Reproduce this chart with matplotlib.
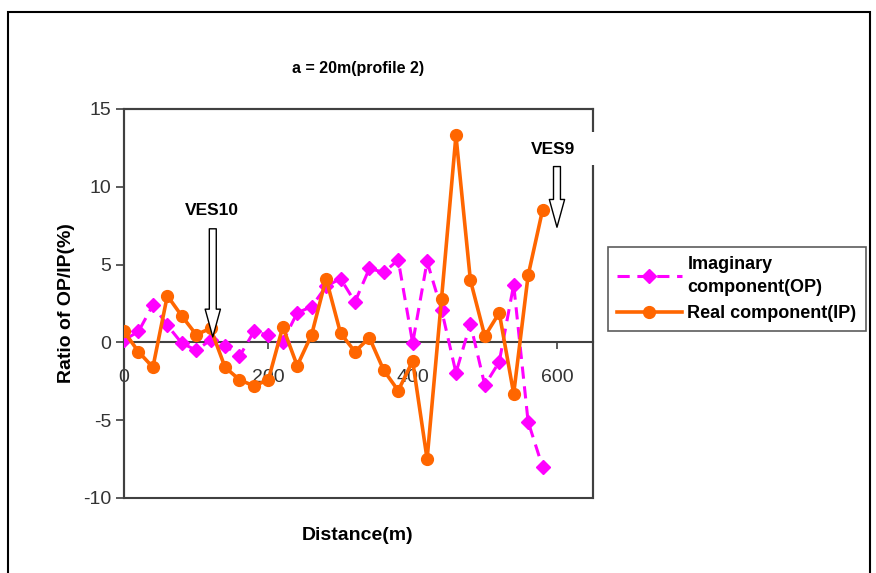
## a = 20m (profile 2) - OP/IP ratio along the profile

import matplotlib.pyplot as plt
from matplotlib.patches import Rectangle

########################################################################################################################

# Data
distance = [0, 20, 40, 60, 80, 100, 120, 140, 160, 180, 200, 220, 240, 260, 280,
            300, 320, 340, 360, 380, 400, 420, 440, 460, 480, 500, 520, 540, 560, 580]

imaginary_op = [0.15, 0.7, 2.4, 1.1, -0.05, -0.5, 0.15, -0.2, -0.9, 0.7, 0.45, 0.05, 1.9, 2.3, 3.6,
                4.1, 2.6, 4.75, 4.5, 5.3, -0.05, 5.2, 2.1, -1.95, 1.2, -2.75, -1.25, 3.7, -5.1, -8.0]

real_ip = [0.7, -0.6, -1.6, 3.0, 1.7, 0.5, 0.9, -1.6, -2.4, -2.8, -2.4, 1.0, -1.5, 0.5, 4.1,
           0.6, -0.6, 0.3, -1.8, -3.1, -1.2, -7.5, 2.8, 13.3, 4.0, 0.4, 1.9, -3.3, 4.3, 8.5]

x_ticks = [0, 200, 400, 600]
y_ticks = [-10, -5, 0, 5, 10, 15]

# VES marker locations (distance, arrow top, arrow tip)
ves_names = ['VES10', 'VES9']
ves_x = [123, 600]
ves_top = [7.3, 11.3]
ves_tip = [0.35, 7.4]

########################################################################################################################

plt.rcParams['font.family'] = ['Liberation Sans', 'DejaVu Sans']
plt.rcParams['axes.unicode_minus'] = False

fig = plt.figure(figsize=(8.76, 5.73), dpi=100)
ax = fig.add_axes([0.1416, 0.1309, 0.5354, 0.6789])

axis_grey = '#404040'

ax.plot(distance, imaginary_op, color='#FF00FF', lw=2.2, linestyle=(0, (4, 2.5)),
        marker='D', markersize=7.5, label='Imaginary\ncomponent(OP)', zorder=3)
ax.plot(distance, real_ip, color='#FF6600', lw=2.6, marker='o', markersize=8.5,
        label='Real component(IP)', zorder=4)

ax.set_xlim(0, 650)
ax.set_ylim(-10, 15)
ax.set_xticks(x_ticks)
ax.set_yticks(y_ticks)

#Excel style: category axis crosses at y = 0, plot area has its own box
ax.spines['bottom'].set_position(('data', 0))
for side in ['top', 'right', 'left', 'bottom']:
    ax.spines[side].set_color(axis_grey)
    ax.spines[side].set_linewidth(1.5)
ax.add_patch(Rectangle((0, 0), 1, 1, transform=ax.transAxes, fill=False,
                       edgecolor=axis_grey, lw=1.5, clip_on=False, zorder=1))

ax.tick_params(axis='x', direction='out', length=5, width=1.2, color=axis_grey,
               pad=14, labelsize=14, labelcolor='#333333')
ax.tick_params(axis='y', direction='out', length=6, width=1.2, color=axis_grey,
               pad=3, labelsize=14, labelcolor='#333333')

ax.set_title('a = 20m(profile 2)', fontsize=11.5, fontweight='bold', pad=26)
ax.set_ylabel('Ratio of OP/IP(%)', fontsize=14, fontweight='bold', labelpad=6)
fig.text(0.408, 0.066, 'Distance(m)', fontsize=14, fontweight='bold', ha='center', va='center')

# VES arrows (hollow block arrows)
for name, xv, top, tip in zip(ves_names, ves_x, ves_top, ves_tip):
    ax.annotate('', xy=(xv, tip), xytext=(xv, top),
                arrowprops=dict(arrowstyle='simple,head_length=2.0,head_width=1.1,tail_width=0.5',
                                mutation_scale=10, fc='white', ec='black', lw=1,
                                shrinkA=0, shrinkB=0), zorder=6)

# white label box of VES9 hides part of the right border
ax.add_patch(Rectangle((559, 11.4), 101, 2.1, facecolor='white', edgecolor='none',
                       clip_on=False, zorder=5))
ax.text(122, 8.5, 'VES10', fontsize=12.5, fontweight='bold', ha='center', va='center', zorder=6)
ax.text(594, 12.4, 'VES9', fontsize=12.5, fontweight='bold', ha='center', va='center', zorder=6)

leg = ax.legend(loc='upper left', bbox_to_anchor=(0.694, 0.569), bbox_transform=fig.transFigure,
                borderaxespad=0, fancybox=False, frameon=True, handlelength=3.6,
                handletextpad=0.3, labelspacing=0.5, borderpad=0.5,
                prop={'weight': 'bold', 'size': 13})
leg.get_texts()[0].set_linespacing(1.45)
leg.get_frame().set_edgecolor('#333333')
leg.get_frame().set_linewidth(1.2)

#Outer chart border
fig.patches.append(Rectangle((0.009, -0.01), 0.984, 0.989, transform=fig.transFigure,
                             fill=False, edgecolor='black', lw=1.5))

fig.savefig('out.png', dpi=100)
